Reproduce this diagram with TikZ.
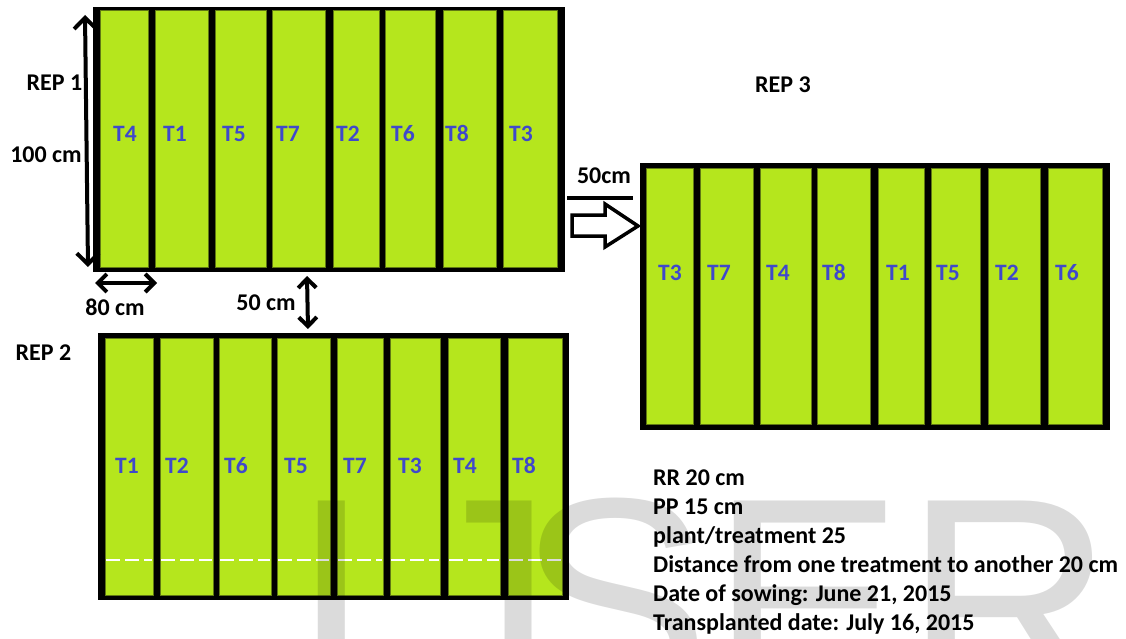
\documentclass[tikz,border=0pt]{standalone}
\usepackage{fontspec}
\setmainfont{Carlito}
\newfontfamily\wmfont{Liberation Sans}
\usetikzlibrary{arrows.meta}
\definecolor{plotgreen}{RGB}{181,230,29}
\definecolor{cellline}{RGB}{96,120,20}
\definecolor{tblue}{RGB}{63,72,204}
\begin{document}
\begin{tikzpicture}[x=1pt,y=-1pt,
  cell/.style={fill=plotgreen, draw=cellline, line width=0.6pt},
  tlab/.style={text=tblue, font=\bfseries\fontsize{23.5}{28}\selectfont, anchor=base, inner sep=0pt},
  lab/.style={font=\bfseries\fontsize{24}{28}\selectfont, inner sep=0pt},
  info/.style={font=\bfseries\fontsize{24}{28}\selectfont, anchor=base west, inner sep=0pt},
  wmark/.style={anchor=base west, inner sep=0pt, text=black, text opacity=0.14, font=\wmfont\fontsize{290}{300}\selectfont},
  dimbig/.style={line width=4pt, line cap=round, {Straight Barb[length=11pt,width=22pt]}-{Straight Barb[length=11pt,width=22pt]}},
  dimsmall/.style={line width=4pt, line cap=round, {Straight Barb[length=9pt,width=18pt]}-{Straight Barb[length=9pt,width=18pt]}},
]
\useasboundingbox (0,0) rectangle (1126,639);

% ---------- REP 1 ----------
\fill[black] (93,7) rectangle (565,272);
\foreach \a/\b in {100/148,155/208,215/266,272/325,333/379,385/435,443/496,503/557}
  \draw[cell] (\a,10) rectangle (\b,267);
\foreach \x/\t in {125/T4,175/T1,234/T5,288/T7,348/T2,403/T6,457/T8,521/T3}
  \node[tlab] (r1\t) at (\x,142) {\t};

% ---------- REP 2 ----------
\fill[black] (98,333) rectangle (569,600);
\foreach \a/\b in {105/153,160/213,219/271,277/330,337/383,390/440,448/500,508/562}{
  \draw[cell] (\a,338) rectangle (\b,595);
  \draw[white, line width=1.2pt, dash pattern=on 14pt off 5pt] (\a+1,560) -- (\b-1,560);
}
\foreach \x/\t in {127/T1,177/T2,236/T6,296/T5,355/T7,410/T3,465/T4,524/T8}
  \node[tlab] (r2\t) at (\x,473) {\t};

% ---------- REP 3 ----------
\fill[black] (640,163) rectangle (1110,430);
\foreach \a/\b in {646/693,700/753,760/811,817/870,878/924,931/980,988/1040,1048/1102}
  \draw[cell] (\a,168) rectangle (\b,424);
\foreach \x/\t in {670/T3,719/T7,778/T4,834/T8,898/T1,948/T5,1007/T2,1067/T6}
  \node[tlab] (r3\t) at (\x,280) {\t};

% ---------- dimension arrows ----------
\coordinate (hTop) at (85,15);
\coordinate (hBot) at (88,267);
\draw[dimbig] (hTop) -- (hBot);
\coordinate (wL) at (95,283);
\coordinate (wR) at (157,283);
\draw[dimsmall] (wL) -- (wR);
\coordinate (gTop) at (307,276);
\coordinate (gBot) at (308,329);
\draw[dimsmall] (gTop) -- (gBot);

% ---------- block arrow to REP 3 ----------
\draw[line width=3.5pt, line join=miter] (572,215) -- (605,215) -- (605,204) -- (638,226) -- (605,247) -- (605,236) -- (572,236) -- cycle;
\coordinate (bL) at (567,198);
\coordinate (bR) at (633,198);
\draw[line width=4pt] (bL) -- (bR);

% ---------- labels ----------
\node[lab] (rep1) at (54.5,83) {REP 1};
\node[lab] (h100) at (46,155) {100 cm};
\node[lab] (w80) at (115,307) {80 cm};
\node[lab] (gap50) at (266,303) {50 cm};
\node[lab] (rep2) at (43.5,353) {REP 2};
\node[lab] (rep3) at (783,85) {REP 3};
\node[lab] (gap50b) at (604,176) {50cm};

% ---------- info ----------
\node[info] (i1) at (653,485) {RR 20 cm};
\node[info] (i2) at (653,514) {PP 15 cm};
\node[info] (i3) at (653,543) {plant/treatment 25};
\node[info] (i4) at (653,572) {Distance from one treatment to another 20 cm};
\node[info] (i5) at (653,601) {Date of sowing: June 21, 2015};
\node[info] (i6) at (653,630) {Transplanted date: July 16, 2015};

% ---------- watermark ----------
\begin{scope}
\clip (0,0) rectangle (1126,639);
\node[wmark] (wmI) at (291,700) {I};
\node[wmark] (wmJ) at (408,700) {J};
\node[wmark] (wmSER) at (517,700) {SER};
\end{scope}
\end{tikzpicture}
\end{document}
